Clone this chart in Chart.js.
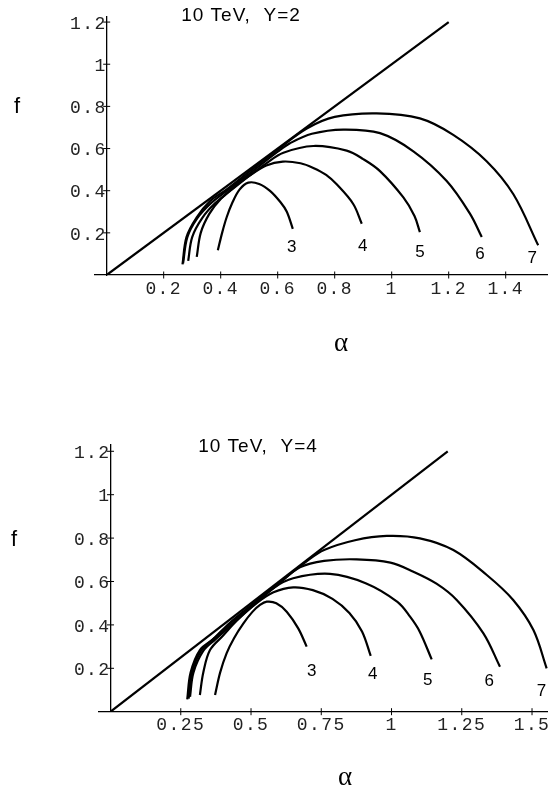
<!DOCTYPE html>
<html>
<head>
<meta charset="utf-8">
<script src="https://cdn.jsdelivr.net/npm/chart.js@4.4.1/dist/chart.umd.min.js"></script>
<style>
  html, body { margin: 0; padding: 0; background: #fff; width: 548px; height: 792px; overflow: hidden; position: relative; }
  canvas { position: absolute; left: 0; }
  #top { top: 0; }
  #bottom { top: 396px; }
</style>
</head>
<body>
<canvas id="top"></canvas>
<canvas id="bottom"></canvas>
<script>
// curve labels (number of ... per curve)
var curveNames = ['3', '4', '5', '6', '7'];

// the line f = alpha
var diagA = [0, 1.2];
var diagF = [0, 1.2];

// tick labels
var topTicksA = [0.2, 0.4, 0.6, 0.8, 1, 1.2, 1.4];
var bottomTicksA = [0.25, 0.5, 0.75, 1, 1.25, 1.5];
var ticksF = [0.2, 0.4, 0.6, 0.8, 1, 1.2];

// 10 TeV, Y=2
var t3a = [0.39, 0.405, 0.421, 0.44, 0.466, 0.497, 0.535, 0.573, 0.61, 0.632, 0.653];
var t3f = [0.117, 0.2, 0.274, 0.34, 0.405, 0.438, 0.432, 0.399, 0.345, 0.3, 0.219];
var t4a = [0.316, 0.33, 0.36, 0.4, 0.45, 0.5, 0.56, 0.618, 0.68, 0.725, 0.77, 0.807, 0.865, 0.895];
var t4f = [0.086, 0.2, 0.29, 0.36, 0.42, 0.47, 0.52, 0.538, 0.53, 0.508, 0.475, 0.43, 0.337, 0.243];
var t5a = [0.286, 0.3, 0.335, 0.38, 0.43, 0.5, 0.56, 0.62, 0.725, 0.842, 0.9, 0.959, 1.041, 1.08, 1.099];
var t5f = [0.067, 0.18, 0.27, 0.34, 0.395, 0.47, 0.53, 0.58, 0.612, 0.59, 0.55, 0.493, 0.368, 0.28, 0.203];
var t6a = [0.268, 0.283, 0.318, 0.365, 0.42, 0.5, 0.6, 0.643, 0.72, 0.83, 0.959, 1.076, 1.193, 1.275, 1.316];
var t6f = [0.055, 0.18, 0.27, 0.34, 0.398, 0.48, 0.585, 0.625, 0.67, 0.69, 0.673, 0.587, 0.446, 0.29, 0.18];
var t7a = [0.266, 0.28, 0.316, 0.362, 0.42, 0.5, 0.6, 0.702, 0.8, 0.947, 1.099, 1.216, 1.333, 1.427, 1.514];
var t7f = [0.05, 0.18, 0.274, 0.35, 0.405, 0.49, 0.595, 0.695, 0.75, 0.767, 0.743, 0.665, 0.54, 0.383, 0.141];
var topLabelA = [0.649, 0.898, 1.099, 1.31, 1.493];
var topLabelF = [0.133, 0.136, 0.109, 0.099, 0.078];

// 10 TeV, Y=4
var b3a = [0.372, 0.39, 0.413, 0.44, 0.473, 0.505, 0.532, 0.556, 0.59, 0.627, 0.668, 0.698];
var b3f = [0.077, 0.18, 0.269, 0.34, 0.407, 0.46, 0.492, 0.507, 0.5, 0.461, 0.384, 0.3];
var b4a = [0.318, 0.33, 0.354, 0.4, 0.45, 0.52, 0.58, 0.65, 0.72, 0.79, 0.85, 0.895, 0.926];
var b4f = [0.077, 0.18, 0.284, 0.35, 0.42, 0.5, 0.55, 0.573, 0.56, 0.52, 0.455, 0.37, 0.257];
var b5a = [0.283, 0.295, 0.33, 0.375, 0.43, 0.5, 0.58, 0.65, 0.781, 0.91, 1.021, 1.066, 1.1, 1.143];
var b5f = [0.069, 0.18, 0.28, 0.335, 0.4, 0.48, 0.57, 0.615, 0.635, 0.591, 0.506, 0.438, 0.37, 0.241];
var b6a = [0.278, 0.29, 0.322, 0.37, 0.425, 0.5, 0.6, 0.674, 0.76, 0.876, 0.996, 1.078, 1.16, 1.232, 1.327, 1.386];
var b6f = [0.06, 0.18, 0.28, 0.34, 0.405, 0.485, 0.59, 0.665, 0.695, 0.702, 0.687, 0.645, 0.59, 0.515, 0.361, 0.207];
var b7a = [0.273, 0.285, 0.318, 0.366, 0.425, 0.5, 0.6, 0.7, 0.76, 0.87, 0.983, 1.101, 1.22, 1.339, 1.433, 1.505, 1.552];
var b7f = [0.057, 0.18, 0.284, 0.335, 0.41, 0.49, 0.595, 0.695, 0.745, 0.79, 0.81, 0.799, 0.745, 0.63, 0.515, 0.376, 0.2];
var bottomLabelA = [0.716, 0.933, 1.129, 1.348, 1.534];
var bottomLabelF = [0.184, 0.174, 0.146, 0.138, 0.092];

function pts(a, f) {
  var out = [];
  for (var i = 0; i < a.length; i++) out.push({x: a[i], y: f[i]});
  return out;
}

// draws the small cross ticks, curve numbers, title and axis letters
var decor = {
  id: 'decor',
  beforeDraw: function(chart) {
    chart.ctx.letterSpacing = '1.4px';
  },
  afterDraw: function(chart, args, o) {
    var ctx = chart.ctx;
    var xs = chart.scales.x, ys = chart.scales.y;
    var x0 = xs.getPixelForValue(0), y0 = ys.getPixelForValue(0);
    ctx.save();
    ctx.letterSpacing = '0px';
    ctx.strokeStyle = '#000';
    ctx.lineWidth = 1;
    ctx.beginPath();
    o.ticksA.forEach(function(v) {
      var p = xs.getPixelForValue(v);
      ctx.moveTo(p, y0 - 3.5); ctx.lineTo(p, y0 + 3.5);
    });
    o.ticksF.forEach(function(v) {
      var p = ys.getPixelForValue(v);
      ctx.moveTo(x0 - 3.5, p); ctx.lineTo(x0 + 3.5, p);
    });
    ctx.stroke();

    ctx.fillStyle = '#000';
    ctx.textAlign = 'center';
    ctx.textBaseline = 'middle';
    ctx.font = '17px "Liberation Sans", Arial, sans-serif';
    curveNames.forEach(function(n, i) {
      ctx.fillText(n, xs.getPixelForValue(o.labelA[i]), ys.getPixelForValue(o.labelF[i]));
    });

    ctx.font = '19px "Liberation Sans", Arial, sans-serif';
    ctx.letterSpacing = '1px';
    ctx.fillText(o.title, o.titleX, o.titleY);
    ctx.letterSpacing = '0px';

    ctx.font = '22px "Liberation Sans", Arial, sans-serif';
    ctx.fillText('f', o.fX, o.fY);
    ctx.font = '27px "Liberation Serif", "Times New Roman", serif';
    ctx.fillText('α', o.aX, o.aY);
    ctx.restore();
  }
};

function build(id, curvesA, curvesF, ticksA, range, pad, extra) {
  var datasets = [{
    data: pts(diagA, diagF),
    showLine: true, borderColor: '#000', borderWidth: 2.2, pointRadius: 0, tension: 0
  }];
  for (var i = 0; i < curvesA.length; i++) {
    datasets.push({
      data: pts(curvesA[i], curvesF[i]),
      showLine: true, borderColor: '#000', borderWidth: 2.2, pointRadius: 0, tension: 0.35
    });
  }
  var tickFont = {family: '"Liberation Mono", "Courier New", monospace', size: 18};
  extra.ticksA = ticksA;
  extra.ticksF = ticksF;
  return new Chart(document.getElementById(id), {
    type: 'scatter',
    data: {datasets: datasets},
    options: {
      responsive: false,
      animation: false,
      devicePixelRatio: 1,
      layout: {padding: pad},
      plugins: {legend: {display: false}, tooltip: {enabled: false}, decor: extra},
      scales: {
        x: {
          type: 'linear', min: range[0], max: range[1],
          position: {y: 0},
          grid: {display: false, drawTicks: false},
          border: {display: true, color: '#000', width: 1.3},
          afterBuildTicks: function(s) { s.ticks = ticksA.map(function(v) { return {value: v}; }); },
          ticks: {color: '#222', font: tickFont, padding: 3, maxRotation: 0, autoSkip: false,
                  callback: function(v) { return String(v); }}
        },
        y: {
          type: 'linear', min: 0, max: range[2],
          position: {x: 0},
          grid: {display: false, drawTicks: false},
          border: {display: true, color: '#000', width: 1.3},
          afterBuildTicks: function(s) { s.ticks = ticksF.map(function(v) { return {value: v}; }); },
          ticks: {color: '#222', font: tickFont, padding: 6, autoSkip: false, labelOffset: 2,
                  callback: function(v) { return String(v); }}
        }
      }
    },
    plugins: [decor]
  });
}

function sizeCanvas(id) {
  var c = document.getElementById(id);
  c.width = 600; c.height = 396;
  c.style.width = '600px'; c.style.height = '396px';
}
sizeCanvas('top');
sizeCanvas('bottom');

build('top',
  [t3a, t4a, t5a, t6a, t7a], [t3f, t4f, t5f, t6f, t7f], topTicksA,
  [-0.041, 1.56, 1.225],
  {left: 95, right: 48.7, top: 14, bottom: 121},
  {title: '10 TeV,  Y=2', titleX: 241, titleY: 16, fX: 17, fY: 107, aX: 341, aY: 344,
   labelA: topLabelA, labelF: topLabelF});

build('bottom',
  [b3a, b4a, b5a, b6a, b7a], [b3f, b4f, b5f, b6f, b7f], bottomTicksA,
  [-0.041, 1.58, 1.229],
  {left: 99, right: 45.5, top: 49, bottom: 80.3},
  {title: '10 TeV,  Y=4', titleX: 258, titleY: 51, fX: 14, fY: 144, aX: 345, aY: 382,
   labelA: bottomLabelA, labelF: bottomLabelF});
</script>
</body>
</html>
